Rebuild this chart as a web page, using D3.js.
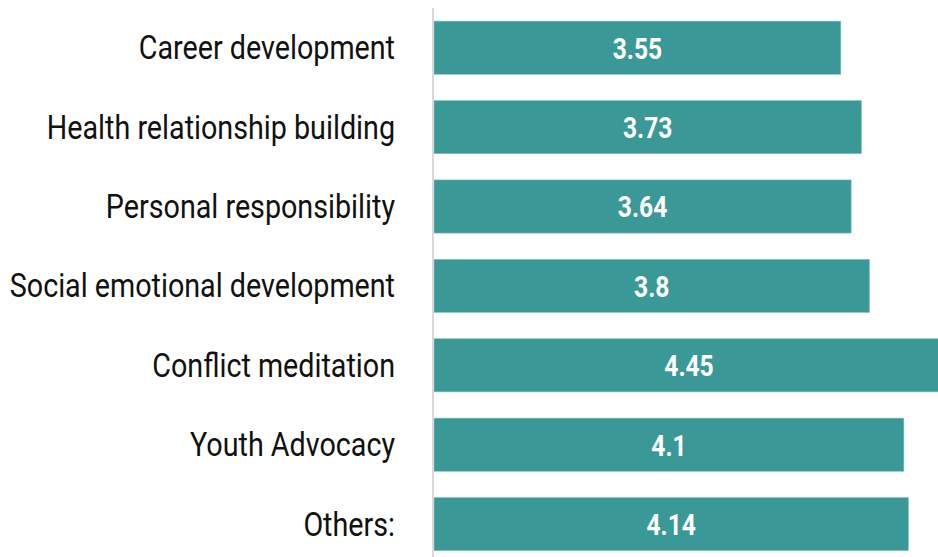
<!DOCTYPE html>
<html lang="en">
<head>
    <meta charset="UTF-8">
    <title>bar chart</title>
    <style>
        body { margin: 0; background: #fff; }
        svg { display: block; }
    </style>
</head>
<body>
    <svg id="chart"></svg>

    <script src="https://d3js.org/d3.v7.min.js"></script>
    <script>
        const categories = ['Career development', 'Health relationship building', 'Personal responsibility',
            'Social emotional development', 'Conflict meditation', 'Youth Advocacy', 'Others:']
        const values = [3.55, 3.73, 3.64, 3.8, 4.45, 4.1, 4.14]

        function render() {
            const svg = d3.select('#chart')
            const width = 938
            const height = 557
            svg.attr('width', width).attr('height', height)

            const x = d3.scaleLinear()
                .domain([0, 4.45])
                .range([434, 944])

            const y = d3.scaleBand()
                .domain(categories)
                .range([8, 8 + 79.4 * 7])
                .paddingInner(0.33)
                .paddingOuter(0.165)

            // bars
            svg.append('g')
                .selectAll('rect')
                .data(values)
                .join('rect')
                .attr('x', x(0))
                .attr('y', (d, i) => y(categories[i]))
                .attr('width', d => x(d) - x(0))
                .attr('height', y.bandwidth())
                .attr('fill', '#3a9997')
                .attr('stroke', '#8cc6c4')
                .attr('stroke-width', 0.6)

            // value labels (condensed look via horizontal squeeze)
            svg.append('g')
                .selectAll('text')
                .data(values)
                .join('text')
                .attr('transform', (d, i) =>
                    `translate(${(x(0) + x(d)) / 2},${y(categories[i]) + y.bandwidth() / 2}) scale(0.82,1)`)
                .attr('dy', '0.36em')
                .attr('text-anchor', 'middle')
                .attr('fill', '#fff')
                .style('font-family', 'Roboto, sans-serif')
                .style('font-weight', 'bold')
                .style('font-size', '30px')
                .text(d => d)

            // category axis
            const yAxis = d3.axisLeft(y).tickSize(0)
            const g = svg.append('g')
                .attr('transform', `translate(${433},0)`)
                .call(yAxis)
            g.select('.domain').remove()
            g.selectAll('text')
                .attr('x', 0)
                .attr('dy', '0.35em')
                .attr('transform', 'translate(-38,0) scale(0.87,1)')
                .attr('fill', '#111')
                .style('font-family', 'Roboto, sans-serif')
                .style('font-size', '33px')

            svg.append('line')
                .attr('x1', 433).attr('x2', 433)
                .attr('y1', 8).attr('y2', height)
                .attr('stroke', '#d9d9d9')
                .attr('stroke-width', 2)
        }

        render()
    </script>
</body>
</html>
